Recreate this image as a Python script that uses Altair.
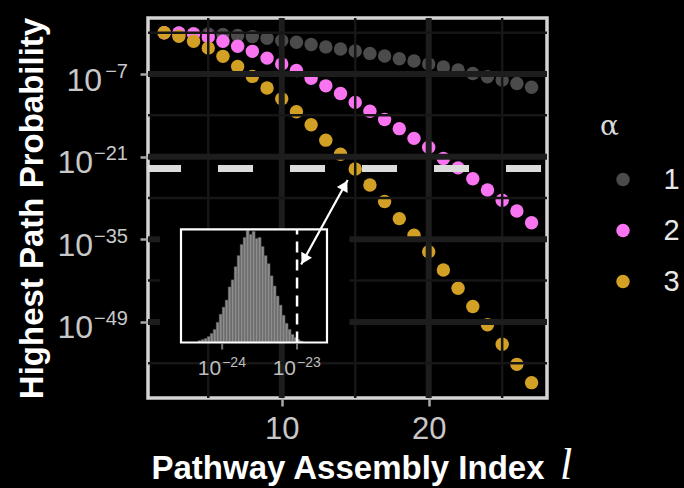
import altair as alt
import pandas as pd

# ---------------------------------------------------------------- data
assembly_index = list(range(2, 28))

# log10 of the highest path probability, one list per alpha
log10_p_alpha1 = [0.0, -0.03, -0.1, -0.2, -0.3, -0.45, -0.65, -0.95, -1.3, -1.6,
                  -2.0, -2.4, -2.75, -3.1, -3.5, -3.95, -4.4, -4.8, -5.3, -5.8,
                  -6.3, -6.9, -7.45, -8.0, -8.6, -9.25]
log10_p_alpha2 = [0.0, -0.05, -0.2, -0.7, -1.45, -2.3, -3.15, -4.3, -5.3, -6.4,
                  -7.7, -9.0, -10.3, -11.8, -13.3, -14.7, -16.25, -17.9, -19.4, -21.3,
                  -22.9, -24.75, -26.65, -28.4, -30.2, -32.2]
log10_p_alpha3 = [0.0, -0.6, -1.45, -2.6, -4.0, -5.7, -7.4, -9.35, -11.2, -13.4,
                  -15.6, -18.2, -20.6, -23.1, -25.8, -28.6, -31.5, -34.3, -37.1, -40.2,
                  -43.3, -46.4, -49.5, -52.8, -56.2, -59.3]
alpha_levels = ["1", "2", "3"]
alpha_colors = ["#4b4b4b", "#f874f0", "#d1a025"]

# axis ticks and gridlines
x_major = [10, 20]
x_minor = [5, 15, 25]
y_major_exp = [-7, -21, -35, -49]
y_minor_exp = [0, -14, -28, -42, -56]

# random-chance threshold
threshold = 1e-23

# inset histogram of random path probabilities (log10 bins)
hist_start_exp = -24.32
hist_bin_width = 0.04
hist_counts = [20, 30, 40, 60, 90, 130, 200, 280, 350, 420,
               550, 620, 750, 860, 970, 1040, 1110, 1070, 1100, 1030,
               1040, 950, 860, 780, 660, 560, 460, 370, 270, 190,
               130, 80, 50, 30, 15]
inset_tick_exp = [-24, -23]
inset_x_exp = [-24.55, -22.6]
inset_count_max = 1120

# arrow linking threshold crossing and inset
arrow_x = [11.32, 14.49]
arrow_exp = [-39.29, -24.97]
head_x = [14.29, 11.52]
head_exp = [-25.87, -38.4]
head_angle = [28.9, 208.9]

FONT = "Liberation Sans, DejaVu Sans"
LABEL_GRAY = "#c8c8c8"


def exp_text(e):
    return str(e).replace("-", "\u2212")


# ---------------------------------------------------------------- scales
# every layer carries its own scale; the main ones share identical domains
main_x = alt.Scale(domain=[0.9, 28.05], nice=False, zero=False)
main_y = alt.Scale(type="log", domain=[10 ** -61.9, 10 ** 2.5], nice=False)
inset_x = alt.Scale(type="log", domain=[10 ** inset_x_exp[0], 10 ** inset_x_exp[1]],
                    range=[33, 179], nice=False)
inset_y = alt.Scale(domain=[0, inset_count_max], range=[324.5, 211.3], nice=False, zero=False)

x_axis = alt.Axis(values=x_major, title="Pathway Assembly Index", grid=False, domain=False,
                  orient="bottom",
                  tickSize=8, tickWidth=2.5, tickColor="#a8a8a8",
                  labelFont=FONT, labelFontSize=31, labelColor=LABEL_GRAY, labelPadding=8,
                  labelFlush=False,
                  titleFont=FONT, titleFontSize=33, titleFontWeight="bold", titleColor="white",
                  titleX=199.5, titleY=80, titleBaseline="alphabetic", titleAlign="center")
# y tick labels are written as "10" plus a raised exponent below
y_axis = alt.Axis(values=[10.0 ** e for e in y_major_exp], labels=False,
                  title="Highest Path Probability", grid=False, domain=False,
                  orient="left",
                  tickSize=8, tickWidth=2.5, tickColor="#a8a8a8",
                  titleFont=FONT, titleFontSize=33, titleFontWeight="bold", titleColor="white",
                  titleX=-106, titleY=190, titleAngle=270, titleBaseline="alphabetic",
                  titleAlign="center")

# ---------------------------------------------------------------- main panel
grid_x_minor = alt.Chart(pd.DataFrame({"gx": x_minor})).mark_rule(
    color="#161616", strokeWidth=2.5).encode(x=alt.X("gx:Q", scale=main_x, axis=None))
grid_x_major = alt.Chart(pd.DataFrame({"gx": x_major})).mark_rule(
    color="#1d1d1d", strokeWidth=6).encode(x=alt.X("gx:Q", scale=main_x, axis=None))
grid_y_minor = alt.Chart(pd.DataFrame({"gy": [10.0 ** e for e in y_minor_exp]})).mark_rule(
    color="#161616", strokeWidth=2.5).encode(y=alt.Y("gy:Q", scale=main_y, axis=None))
grid_y_major = alt.Chart(pd.DataFrame({"gy": [10.0 ** e for e in y_major_exp]})).mark_rule(
    color="#1d1d1d", strokeWidth=6).encode(y=alt.Y("gy:Q", scale=main_y, axis=None))

threshold_rule = alt.Chart(pd.DataFrame({"t": [threshold]})).mark_rule(
    color="#dcdcdc", strokeWidth=7, strokeDash=[35, 37], strokeDashOffset=66).encode(
    y=alt.Y("t:Q", scale=main_y, axis=None))

rows = []
for a, series in zip(alpha_levels, [log10_p_alpha1, log10_p_alpha2, log10_p_alpha3]):
    for i, v in zip(assembly_index, series):
        rows.append({"index": i, "p": 10.0 ** v, "alpha": a})
points_df = pd.DataFrame(rows)

points = alt.Chart(points_df).mark_circle(size=180, opacity=1).encode(
    x=alt.X("index:Q", scale=main_x, axis=x_axis),
    y=alt.Y("p:Q", scale=main_y, axis=y_axis),
    color=alt.Color("alpha:N", scale=alt.Scale(domain=alpha_levels, range=alpha_colors),
                    legend=alt.Legend(title="\u03b1", orient="none", legendX=452, legendY=95,
                                      padding=0,
                                      titleFont="DejaVu Serif", titleFontSize=28,
                                      titleFontWeight="normal", titleColor="#d9d9d9",
                                      titlePadding=24,
                                      labelFont=FONT, labelFontSize=29, labelColor="#e8e8e8",
                                      labelOffset=26, rowPadding=21,
                                      symbolType="circle", symbolSize=180, symbolStrokeWidth=0,
                                      symbolOpacity=1, symbolOffset=8.5)),
)

# y tick labels: base "10" and exponent, right-aligned next to the ticks
ylab_df = pd.DataFrame({
    "p": [10.0 ** e for e in y_major_exp],
    "base": ["10"] * len(y_major_exp),
    "sup": [exp_text(e) for e in y_major_exp],
    "wide": [len(str(abs(e))) > 1 for e in y_major_exp],
})
ylab_sup = alt.Chart(ylab_df).mark_text(
    font=FONT, fontSize=20, color=LABEL_GRAY, align="right", baseline="alphabetic",
    dy=3.5).encode(x=alt.value(-20), y=alt.Y("p:Q", scale=main_y, axis=None), text="sup:N")
ylab_base_narrow = alt.Chart(ylab_df).transform_filter("!datum.wide").mark_text(
    font=FONT, fontSize=32, color=LABEL_GRAY, align="right", baseline="alphabetic",
    dy=16.5).encode(x=alt.value(-46), y=alt.Y("p:Q", scale=main_y, axis=None), text="base:N")
ylab_base_wide = alt.Chart(ylab_df).transform_filter("datum.wide").mark_text(
    font=FONT, fontSize=32, color=LABEL_GRAY, align="right", baseline="alphabetic",
    dy=16.5).encode(x=alt.value(-55), y=alt.Y("p:Q", scale=main_y, axis=None), text="base:N")

ell = alt.Chart(pd.DataFrame({"sym": ["l"]})).mark_text(
    font="Liberation Serif", fontStyle="italic", fontSize=44, color="white",
    align="center", baseline="alphabetic").encode(
    x=alt.value(418), y=alt.value(461), text="sym:N")

# ---------------------------------------------------------------- inset
hist_df = pd.DataFrame({
    "lo": [10 ** (hist_start_exp + k * hist_bin_width) for k in range(len(hist_counts))],
    "hi": [10 ** (hist_start_exp + (k + 1) * hist_bin_width) for k in range(len(hist_counts))],
    "count": hist_counts,
})
box_df = pd.DataFrame({"x0": [10 ** inset_x_exp[0]], "x1": [10 ** inset_x_exp[1]],
                       "y0": [0], "y1": [inset_count_max]})
bg_df = pd.DataFrame({"x0": [10 ** -24.83], "x1": [10 ** -22.3],
                      "y0": [0], "y1": [inset_count_max]})

inset_bg = alt.Chart(bg_df).mark_rect(fill="black").encode(
    x=alt.X("x0:Q", scale=inset_x, axis=None), x2="x1",
    y=alt.Y("y0:Q", scale=inset_y, axis=None), y2="y1")
hist = alt.Chart(hist_df).mark_rect(fill="#8d8d8d", stroke="#4a4a4a", strokeWidth=0.5).encode(
    x=alt.X("lo:Q", scale=inset_x, axis=None), x2="hi",
    y=alt.Y("count:Q", scale=inset_y, axis=None), y2=alt.datum(0))
inset_dash = alt.Chart(pd.DataFrame({"x": [threshold], "y0": [0], "y1": [inset_count_max]})).mark_rule(
    color="white", strokeWidth=2.5, strokeDash=[11, 7]).encode(
    x=alt.X("x:Q", scale=inset_x, axis=None),
    y=alt.Y("y0:Q", scale=inset_y, axis=None), y2="y1")
inset_box = alt.Chart(box_df).mark_rect(fillOpacity=0, stroke="white", strokeWidth=2.2).encode(
    x=alt.X("x0:Q", scale=inset_x, axis=None), x2="x1",
    y=alt.Y("y0:Q", scale=inset_y, axis=None), y2="y1")
tick_df = pd.DataFrame({"x": [10.0 ** e for e in inset_tick_exp],
                        "base": ["10"] * len(inset_tick_exp),
                        "sup": [exp_text(e) for e in inset_tick_exp]})
inset_ticks = alt.Chart(tick_df).mark_tick(orient="vertical", size=6, thickness=2,
                                           yOffset=4, color="#a8a8a8").encode(
    x=alt.X("x:Q", scale=inset_x, axis=None),
    y=alt.Y("y:Q", scale=inset_y, axis=None)).transform_calculate(y="0")
inset_base = alt.Chart(tick_df).mark_text(font=FONT, fontSize=21, color="#bdbdbd",
                                          align="right", baseline="alphabetic",
                                          dx=-1, dy=32.5).encode(
    x=alt.X("x:Q", scale=inset_x, axis=None),
    y=alt.Y("y:Q", scale=inset_y, axis=None), text="base:N").transform_calculate(y="0")
inset_sup = alt.Chart(tick_df).mark_text(font=FONT, fontSize=14, color="#bdbdbd",
                                         align="left", baseline="alphabetic",
                                         dx=0, dy=24).encode(
    x=alt.X("x:Q", scale=inset_x, axis=None),
    y=alt.Y("y:Q", scale=inset_y, axis=None), text="sup:N").transform_calculate(y="0")

# ---------------------------------------------------------------- arrow
arrow_df = pd.DataFrame({"x": arrow_x, "p": [10.0 ** e for e in arrow_exp]})
heads_df = pd.DataFrame({"x": head_x, "p": [10.0 ** e for e in head_exp], "ang": head_angle})
arrow_line = alt.Chart(arrow_df).mark_line(color="white", strokeWidth=2.2).encode(
    x=alt.X("x:Q", scale=main_x, axis=None), y=alt.Y("p:Q", scale=main_y, axis=None))
arrow_heads = alt.Chart(heads_df).mark_point(shape="triangle-up", filled=True, size=150,
                                             color="white", opacity=1).encode(
    x=alt.X("x:Q", scale=main_x, axis=None), y=alt.Y("p:Q", scale=main_y, axis=None),
    angle=alt.Angle("ang:Q", scale=None))

chart = alt.layer(
    points,
    grid_x_minor, grid_x_major, grid_y_minor, grid_y_major, threshold_rule,
    inset_bg, hist, inset_dash, inset_box, inset_ticks, inset_base, inset_sup,
    arrow_line, arrow_heads,
    ylab_sup, ylab_base_narrow, ylab_base_wide, ell,
).resolve_scale(
    x="independent", y="independent"
).properties(
    width=399, height=380,
    autosize=alt.AutoSizeParams(type="none"),
    padding={"left": 148, "top": 18, "right": 137, "bottom": 90},
    background="black",
).configure_view(stroke="#d4d4d4", strokeWidth=3.5, fill="black")

chart.save("out.html", embed_options={"renderer": "svg", "actions": False})
